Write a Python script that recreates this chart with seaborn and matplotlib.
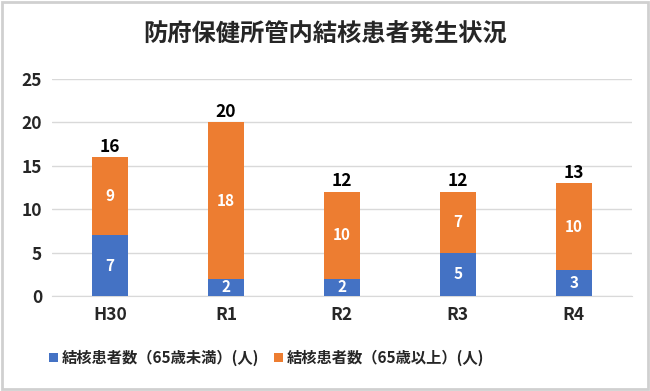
import pandas as pd
import numpy as np
import seaborn as sns
import matplotlib as mpl
from matplotlib import pyplot as plt
from matplotlib.patches import Rectangle

categories = ['H30', 'R1', 'R2', 'R3', 'R4']
under65 = [7, 2, 2, 5, 3]
over65 = [9, 18, 10, 7, 10]
label_under = '結核患者数（65歳未満）(人)'
label_over = '結核患者数（65歳以上）(人)'
title = '防府保健所管内結核患者発生状況'

BLUE = '#4472C4'
ORANGE = '#ED7D31'

sns.set_style('white')
plt.rcParams['font.family'] = ['Noto Sans CJK JP', 'DejaVu Sans']

df = pd.DataFrame({'year': categories, 'under': under65, 'over': over65})
df['total'] = df['under'] + df['over']

fig = plt.figure(figsize=(6.5, 3.91), dpi=100)
ax = fig.add_axes([0.08, 0.243, 0.892, 0.555])

# stacked bars: draw the totals in orange, then the blue part on top of it
sns.barplot(data=df, x='year', y='total', color=ORANGE, width=0.31,
            saturation=1, ax=ax, zorder=3, label=label_over, linewidth=0)
sns.barplot(data=df, x='year', y='under', color=BLUE, width=0.31,
            saturation=1, ax=ax, zorder=4, label=label_under, linewidth=0)

orange_bars = ax.containers[0]
blue_bars = ax.containers[1]

# segment labels
for rect, v in zip(orange_bars, df['over']):
    x = rect.get_x() + rect.get_width() / 2
    y = rect.get_height() - v / 2
    ax.text(x, y, str(v), ha='center', va='center', color='white',
            fontsize=11, fontweight='bold', zorder=5)
for rect, v in zip(blue_bars, df['under']):
    x = rect.get_x() + rect.get_width() / 2
    ax.text(x, v / 2, str(v), ha='center', va='center', color='white',
            fontsize=11, fontweight='bold', zorder=5)
ax.bar_label(orange_bars, labels=[str(t) for t in df['total']], padding=1,
             fontsize=12.5, fontweight='bold', color='black')

ax.set_ylim(0, 25)
ax.set_yticks(range(0, 26, 5))
ax.set_xlim(-0.5, 4.5)
ax.yaxis.grid(True, color='#D9D9D9', linewidth=1, zorder=0)
ax.set_axisbelow(True)
ax.set(xlabel='', ylabel='')
for s in ['top', 'right', 'left']:
    ax.spines[s].set_visible(False)
ax.spines['bottom'].set_color('#D9D9D9')
ax.tick_params(axis='both', length=0, labelsize=12.5, pad=7)
for lab in ax.get_xticklabels() + ax.get_yticklabels():
    lab.set_fontweight('bold')

fig.text(0.5, 0.91, title, ha='center', va='center', fontsize=17.5,
         fontweight='bold')

handles, labels = ax.get_legend_handles_labels()
order = [labels.index(label_under), labels.index(label_over)]
ax.legend([handles[i] for i in order], [labels[i] for i in order],
          loc='center', bbox_to_anchor=(0.41, 0.085), bbox_transform=fig.transFigure,
          ncol=2, frameon=False, handlelength=0.6, handleheight=0.6,
          handletextpad=0.25, columnspacing=1.0,
          prop={'size': 11, 'weight': 'bold'})

fig.patches.append(Rectangle((0.003, 0.005), 0.994, 0.99, transform=fig.transFigure,
                             fill=False, edgecolor='#D0D0D0', linewidth=2))

fig.savefig('out.png', dpi=100)
